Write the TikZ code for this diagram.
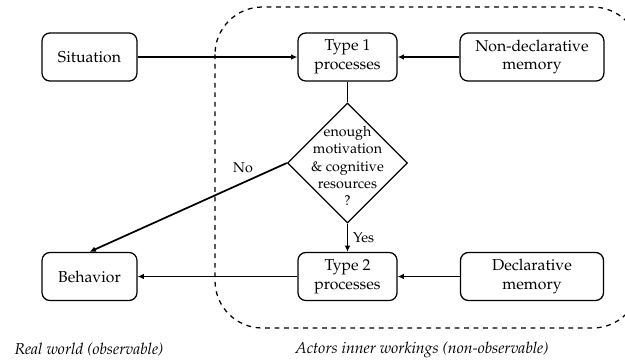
\documentclass[tikz,border=0pt]{standalone}
\usepackage[T1]{fontenc}
\usepackage{mathpazo}
\usetikzlibrary{shapes.geometric,arrows.meta}
\begin{document}
\begin{tikzpicture}[x=0.6329pt,y=-0.6329pt,
  box/.style={draw,line width=0.8pt,rounded corners=5pt,align=center,minimum height=30.4pt,inner sep=2pt},
  arr/.style={line width=1.1pt,-{Latex[length=4pt,width=3.6pt]}},
  lbl/.style={font=\small,inner sep=1pt},
  captxt/.style={font=\itshape}]
\useasboundingbox (0,0) rectangle (625,362);
\draw[dashed,line width=0.8pt,rounded corners=30pt] (215,7) rectangle (640,328);
\node[box,minimum width=60.1pt] (sit) at (89.5,57) {Situation};
\node[box,minimum width=62.7pt] (t1) at (347.5,57) {Type 1\\processes};
\node[box,minimum width=91pt] (nd) at (532,57) {Non-declarative\\memory};
\node[diamond,draw,line width=0.8pt,minimum size=76pt,inner sep=0pt] (dia) at (347.5,163) {};
\node[align=center,font=\small,inner sep=0pt] (diatxt) at (347.5,166) {enough\\motivation\\\&\ cognitive\\resources\\?};
\node[box,minimum width=60.1pt] (beh) at (89.5,276.5) {Behavior};
\node[box,minimum width=62.7pt] (t2) at (347.5,276.5) {Type 2\\processes};
\node[box,minimum width=90.5pt] (dm) at (532,276.5) {Declarative\\memory};
\draw[arr] (sit) -- (t1);
\draw[arr] (nd) -- (t1);
\draw[line width=1.1pt] (t1) -- (dia.north);
\draw[arr] (dia.south) -- node[lbl,right=2pt] (yes) {Yes} (t2);
\draw[arr] (dia.west) -- (beh.north);
\node[lbl] (no) at (243,168) {No};
\draw[arr] (t2) -- (beh);
\draw[arr] (dm) -- (t2);
\node[captxt] (rw) at (89,350) {Real world (observable)};
\node[captxt] (aiw) at (422,350) {Actors inner workings (non-observable)};
\end{tikzpicture}
\end{document}
